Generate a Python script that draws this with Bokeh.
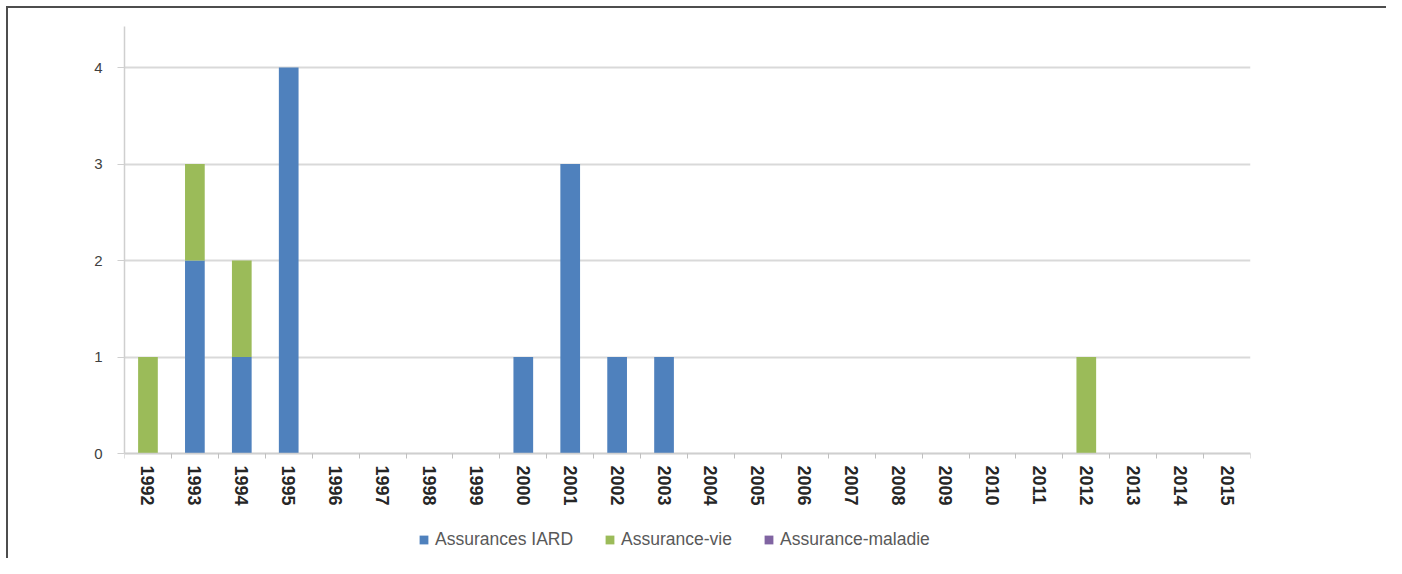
from bokeh.plotting import figure
from bokeh.models import FixedTicker, Legend, LegendItem
from bokeh.embed import file_html
from bokeh.resources import INLINE

years = ["1992", "1993", "1994", "1995", "1996", "1997", "1998", "1999", "2000", "2001",
         "2002", "2003", "2004", "2005", "2006", "2007", "2008", "2009", "2010", "2011",
         "2012", "2013", "2014", "2015"]
iard = [0, 2, 1, 4, 0, 0, 0, 0, 1, 3, 1, 1, 0, 0, 0, 0, 0, 0, 0, 0, 0, 0, 0, 0]
vie = [1, 1, 1, 0, 0, 0, 0, 0, 0, 0, 0, 0, 0, 0, 0, 0, 0, 0, 0, 0, 1, 0, 0, 0]
maladie = [0] * 24
series_names = ["Assurances IARD", "Assurance-vie", "Assurance-maladie"]
colors = ["#4F81BD", "#9BBB59", "#8064A2"]
y_ticks = [0, 1, 2, 3, 4]

pos = list(range(len(years)))
data = dict(x=pos, iard=iard, vie=vie, maladie=maladie)

Y_TOP = 4.425
Y_BOTTOM = -1.088

p = figure(frame_width=1126, frame_height=532,
           x_range=(-0.5, len(years) - 0.5), y_range=(Y_BOTTOM, Y_TOP),
           output_backend="svg", toolbar_location=None,
           min_border_left=124, min_border_right=136,
           min_border_top=26, min_border_bottom=0)
p.styles = {"background-color": "white",
            "background-image": "linear-gradient(#4d4d4d, #4d4d4d), linear-gradient(#4d4d4d, #4d4d4d)",
            "background-size": "100% 2px, 2px 100%",
            "background-position": "6px 6px, 6px 6px",
            "background-repeat": "no-repeat"}
p.outline_line_color = None
p.background_fill_color = None
p.border_fill_color = None

rs = p.vbar_stack(["iard", "vie", "maladie"], x="x", width=0.42, source=data,
                  color=colors, line_color=None)

xa = p.xaxis[0]
xa.fixed_location = 0
xa.ticker = FixedTicker(ticks=pos, minor_ticks=[i - 0.5 for i in range(len(years) + 1)])
xa.major_label_overrides = {i: y for i, y in enumerate(years)}
xa.major_label_orientation = "vertical"
xa.major_tick_out = 0
xa.major_tick_in = 0
xa.minor_tick_out = 5
xa.minor_tick_in = 0
xa.minor_tick_line_color = "#bfbfbf"
xa.axis_line_color = "#cfcfcf"
xa.axis_line_width = 1.5
xa.major_label_standoff = 7
xa.major_label_text_font = "Liberation Sans"
xa.major_label_text_font_style = "bold"
xa.major_label_text_font_size = "18px"
xa.major_label_text_color = "#262626"

ya = p.yaxis[0]
ya.bounds = (0, Y_TOP)
ya.ticker = FixedTicker(ticks=y_ticks)
ya.major_tick_out = 7
ya.major_tick_in = 0
ya.minor_tick_line_color = None
ya.major_tick_line_color = "#cfcfcf"
ya.axis_line_color = "#cfcfcf"
ya.axis_line_width = 1.5
ya.major_label_standoff = 15
ya.major_label_text_font = "Liberation Sans"
ya.major_label_text_font_size = "15px"
ya.major_label_text_color = "#404040"

p.xgrid.visible = False
p.ygrid.ticker = FixedTicker(ticks=y_ticks)
p.ygrid.grid_line_color = "#d9d9d9"
p.ygrid.grid_line_width = 2

legend = Legend(items=[LegendItem(label=n, renderers=[r]) for n, r in zip(series_names, rs)],
                orientation="horizontal", location=(294, 8),
                glyph_width=11, glyph_height=11, label_height=20, label_standoff=6, spacing=31,
                label_text_font="Liberation Sans", label_text_font_size="17.5px",
                label_text_color="#595959", border_line_color=None,
                background_fill_alpha=0, margin=0, padding=0)
p.add_layout(legend, "center")

open("out.html", "w").write(file_html(p, INLINE))
